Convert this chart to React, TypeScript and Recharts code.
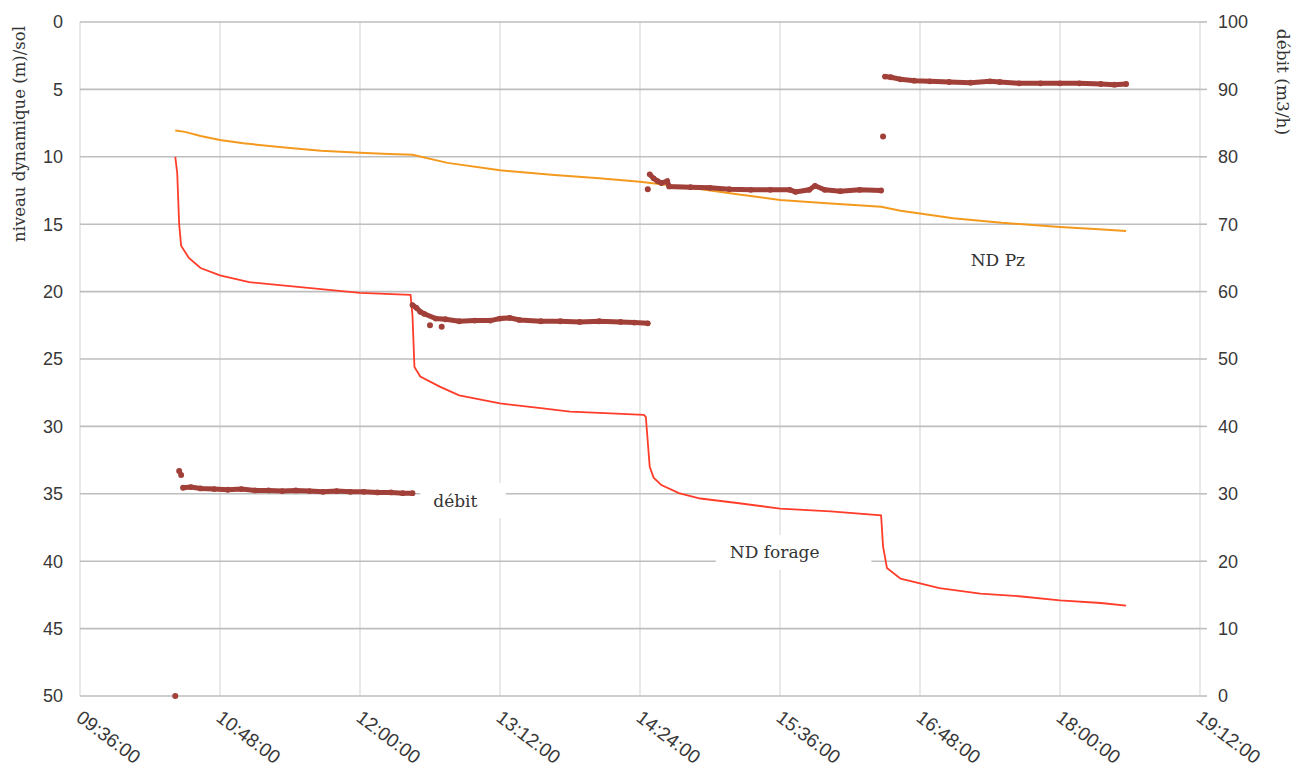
import React from 'react';
import {
    ComposedChart,
    Line,
    Scatter,
    XAxis,
    YAxis,
    CartesianGrid,
    ReferenceArea
} from 'recharts';

// ---- data ----

// ND forage (niveau dynamique du forage, m/sol)
const forageTimes = [
    '10:25', '10:26', '10:27', '10:28', '10:32', '10:38', '10:48', '11:03', '11:24', '12:00',
    '12:26', '12:27', '12:28', '12:31', '12:41', '12:51', '13:12', '13:33', '13:48', '14:03',
    '14:26', '14:27', '14:29', '14:31', '14:35', '14:44', '14:55', '15:15', '15:36', '16:02',
    '16:28', '16:29', '16:31', '16:38', '16:48', '16:58', '17:19', '17:39', '18:00', '18:21', '18:34'
];
const forageLevel = [
    10.0, 11.2, 15.0, 16.6, 17.5, 18.25, 18.8, 19.3, 19.6, 20.1,
    20.25, 21.8, 25.6, 26.3, 27.05, 27.7, 28.3, 28.65, 28.9, 29.0,
    29.15, 29.3, 33.0, 33.8, 34.35, 34.95, 35.35, 35.7, 36.1, 36.3,
    36.6, 38.9, 40.5, 41.3, 41.65, 42.0, 42.4, 42.6, 42.9, 43.1, 43.3
];

// ND Pz (piezometre, m/sol)
const pzTimes = [
    '10:25', '10:30', '10:38', '10:48', '11:00', '11:24', '11:40', '12:00', '12:15', '12:27',
    '12:45', '13:12', '13:40', '14:03', '14:24', '14:50', '15:15', '15:36', '16:00', '16:28',
    '16:38', '16:48', '17:05', '17:30', '18:00', '18:20', '18:34'
];
const pzLevel = [
    8.05, 8.15, 8.45, 8.75, 9.0, 9.35, 9.55, 9.7, 9.8, 9.85,
    10.45, 11.0, 11.35, 11.6, 11.85, 12.3, 12.8, 13.2, 13.45, 13.7,
    14.0, 14.2, 14.55, 14.9, 15.2, 15.38, 15.5
];

// debit (m3/h) - four pumping steps, null = change of step
const debitTimes = [
    '10:29', '10:33', '10:38', '10:45', '10:52', '10:59', '11:06', '11:13', '11:20', '11:27',
    '11:34', '11:41', '11:48', '11:55', '12:02', '12:09', '12:16', '12:22', '12:27',
    '12:27',
    '12:27', '12:29', '12:31', '12:33', '12:39', '12:44', '12:51', '12:59', '13:07', '13:12',
    '13:17', '13:22', '13:33', '13:43', '13:53', '14:03', '14:14', '14:21', '14:28',
    '14:28',
    '14:29', '14:31', '14:33', '14:35', '14:38', '14:39', '14:50', '15:00', '15:10', '15:21',
    '15:31', '15:41', '15:44', '15:51', '15:54', '15:59', '16:07', '16:17', '16:28',
    '16:29',
    '16:30', '16:33', '16:38', '16:45', '16:53', '17:03', '17:14', '17:24', '17:29', '17:39',
    '17:50', '18:00', '18:10', '18:21', '18:28', '18:34'
];
const debitFlow = [
    30.9, 31.0, 30.8, 30.7, 30.6, 30.7, 30.5, 30.5, 30.4, 30.5,
    30.4, 30.3, 30.4, 30.3, 30.3, 30.2, 30.2, 30.1, 30.1,
    null,
    58.0, 57.6, 57.0, 56.7, 56.0, 55.9, 55.6, 55.7, 55.7, 56.0,
    56.1, 55.8, 55.6, 55.6, 55.5, 55.6, 55.5, 55.4, 55.3,
    null,
    77.4, 76.8, 76.4, 76.1, 76.4, 75.6, 75.5, 75.4, 75.2, 75.1,
    75.1, 75.1, 74.8, 75.1, 75.7, 75.1, 74.9, 75.1, 75.0,
    null,
    91.9, 91.8, 91.5, 91.3, 91.2, 91.1, 91.0, 91.2, 91.1, 90.9,
    90.9, 90.9, 90.9, 90.8, 90.7, 90.8
];

// isolated debit readings
const outlierTimes = ['10:25', '10:27', '10:28', '12:36', '12:42', '14:28', '16:29'];
const outlierFlow = [0, 33.4, 32.8, 55.0, 54.8, 75.2, 83.0];

const timeTicks = ['09:36', '10:48', '12:00', '13:12', '14:24', '15:36', '16:48', '18:00', '19:12'];
const levelTicks = [0, 5, 10, 15, 20, 25, 30, 35, 40, 45, 50];
const flowTicks = [0, 10, 20, 30, 40, 50, 60, 70, 80, 90, 100];

// ---- helpers ----
const toMin = (s: string) => {
    const [h, m] = s.split(':').map(Number);
    return h * 60 + m;
};
const fmtTime = (m: number) =>
    `${String(Math.floor(m / 60)).padStart(2, '0')}:${String(Math.round(m % 60)).padStart(2, '0')}:00`;

const zip = (times: string[], vals: (number | null)[]) =>
    times.map((t, i) => ({ t: toMin(t), v: vals[i] }));

const forageData = zip(forageTimes, forageLevel);
const pzData = zip(pzTimes, pzLevel);
const debitData = zip(debitTimes, debitFlow);
const outlierData = zip(outlierTimes, outlierFlow);
const xTicks = timeTicks.map(toMin);

const colors = {
    pz: '#F39A1E',
    forage: '#FF3D2A',
    debit: '#A13F39',
    gridH: '#BEBEBE',
    gridV: '#E4E4E4',
    text: '#383838'
};

const tickFont = { fontFamily: 'Liberation Sans, Arial, sans-serif', fontSize: 18, fill: colors.text };
const serif = 'DejaVu Serif, serif';

const TimeTick = ({ x, y, payload }: any) => {
    const ox = x - 5;
    const oy = y + 22;
    return (
        <text
            x={ox}
            y={oy}
            transform={`rotate(37, ${ox}, ${oy})`}
            textAnchor="start"
            {...tickFont}
            fontSize={19}
        >
            {fmtTime(payload.value)}
        </text>
    );
};

const boxLabel = (text: string, pad: number) => ({ viewBox }: any) => (
    <text
        x={viewBox.x + pad}
        y={viewBox.y + viewBox.height / 2}
        dominantBaseline="central"
        fontFamily={serif}
        fontSize={17}
        fill="#333"
    >
        {text}
    </text>
);

export default function App() {
    return (
        <div style={{ position: 'absolute', left: 0, top: 0, background: '#fff' }}>
            <ComposedChart
                width={1301}
                height={774}
                margin={{ top: 22, right: 0, bottom: 0, left: 0 }}
            >
                <CartesianGrid yAxisId="left" horizontal={false} stroke={colors.gridV} strokeWidth={1.6} />
                <CartesianGrid yAxisId="left" vertical={false} stroke={colors.gridH} strokeWidth={1.6} />
                <XAxis
                    dataKey="t"
                    type="number"
                    domain={[xTicks[0], xTicks[xTicks.length - 1]]}
                    ticks={xTicks}
                    height={78}
                    axisLine={false}
                    tickLine={false}
                    tickSize={0}
                    tick={<TimeTick />}
                    interval={0}
                />
                <YAxis
                    yAxisId="left"
                    reversed
                    domain={[0, 50]}
                    ticks={levelTicks}
                    width={80}
                    axisLine={false}
                    tickLine={false}
                    tickSize={0}
                    tickMargin={17}
                    tick={tickFont}
                    interval={0}
                    label={() => (
                        <text
                            x={19}
                            y={134}
                            transform="rotate(-90, 19, 134)"
                            textAnchor="middle"
                            dominantBaseline="central"
                            fontFamily={serif}
                            fontSize={16.5}
                            fill="#333"
                        >
                            niveau dynamique (m)/sol
                        </text>
                    )}
                />
                <YAxis
                    yAxisId="right"
                    orientation="right"
                    domain={[0, 100]}
                    ticks={flowTicks}
                    width={101}
                    axisLine={false}
                    tickLine={{ stroke: colors.gridH, strokeWidth: 1.6 }}
                    tickSize={7}
                    tickMargin={11}
                    tick={tickFont}
                    interval={0}
                    label={() => (
                        <text
                            x={1283}
                            y={82}
                            transform="rotate(90, 1283, 82)"
                            textAnchor="middle"
                            dominantBaseline="central"
                            fontFamily={serif}
                            fontSize={17}
                            fill="#333"
                        >
                            débit (m3/h)
                        </text>
                    )}
                />

                <ReferenceArea yAxisId="left" x1={751} x2={795} y1={34.2} y2={36.8}
                    fill="#fff" fillOpacity={1} stroke="none" label={boxLabel('débit', 13)} />
                <ReferenceArea yAxisId="left" x1={903} x2={983} y1={38.05} y2={40.65}
                    fill="#fff" fillOpacity={1} stroke="none" label={boxLabel('ND forage', 14)} />
                <ReferenceArea yAxisId="left" x1={1031} x2={1070} y1={16.7} y2={18.6}
                    fill="#fff" fillOpacity={1} stroke="none" label={boxLabel('ND Pz', 6)} />

                <Line
                    data={pzData}
                    yAxisId="left"
                    dataKey="v"
                    name="ND Pz"
                    type="linear"
                    stroke={colors.pz}
                    strokeWidth={2}
                    dot={false}
                    isAnimationActive={false}
                />
                <Line
                    data={forageData}
                    yAxisId="left"
                    dataKey="v"
                    name="ND forage"
                    type="linear"
                    stroke={colors.forage}
                    strokeWidth={1.8}
                    dot={false}
                    isAnimationActive={false}
                />
                <Line
                    data={debitData}
                    yAxisId="right"
                    dataKey="v"
                    name="débit"
                    type="linear"
                    stroke={colors.debit}
                    strokeWidth={5}
                    strokeLinecap="round"
                    dot={{ r: 2.9, fill: colors.debit, stroke: 'none' }}
                    connectNulls={false}
                    isAnimationActive={false}
                />
                <Scatter
                    data={outlierData}
                    yAxisId="right"
                    dataKey="v"
                    name="débit isolé"
                    fill={colors.debit}
                    shape={(p: any) => <circle cx={p.cx} cy={p.cy} r={3} fill={colors.debit} />}
                    isAnimationActive={false}
                />
            </ComposedChart>
        </div>
    );
}
